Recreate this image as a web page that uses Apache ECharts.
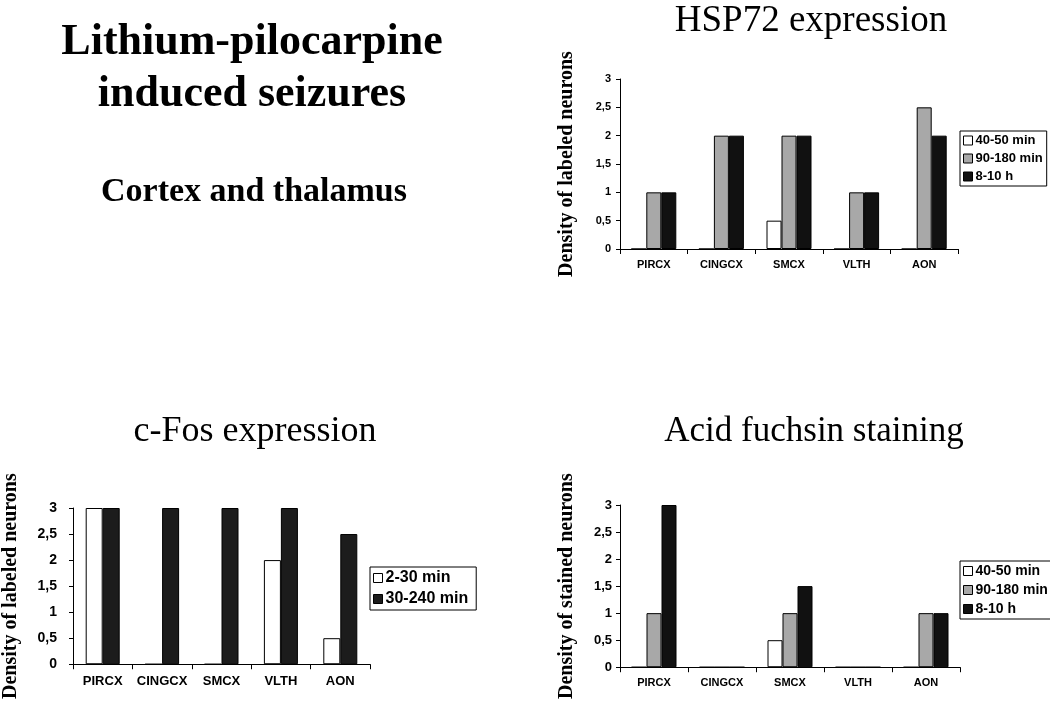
<!DOCTYPE html>
<html>
<head>
<meta charset="utf-8">
<script src="https://cdn.jsdelivr.net/npm/echarts@6/dist/echarts.min.js"></script>
<style>
html,body{margin:0;padding:0;background:#fff;}
#chart{width:1050px;height:701px;}
</style>
</head>
<body>
<div id="chart"></div>
<script>
// ---- data ----
var regions = ['PIRCX', 'CINGCX', 'SMCX', 'VLTH', 'AON'];
var yTicks = [0, 0.5, 1, 1.5, 2, 2.5, 3];

var hspNames = ['40-50 min', '90-180 min', '8-10 h'];
var hsp_40_50 = [0, 0, 0.5, 0, 0];
var hsp_90_180 = [1, 2, 2, 1, 2.5];
var hsp_8_10 = [1, 2, 2, 1, 2];

var fosNames = ['2-30 min', '30-240 min'];
var fos_2_30 = [3, 0, 0, 2, 0.5];
var fos_30_240 = [3, 3, 3, 3, 2.5];

var afNames = ['40-50 min', '90-180 min', '8-10 h'];
var af_40_50 = [0, 0, 0.5, 0, 0];
var af_90_180 = [1, 0, 1, 0, 1];
var af_8_10 = [3, 0, 1.5, 0, 1];

// ---- styles ----
var WHITE = {color: '#ffffff', borderColor: '#000', borderWidth: 1};
var GRAY = {color: '#a8a8a8', borderColor: '#000', borderWidth: 1};
var BLACK = {color: '#111111', borderColor: '#000', borderWidth: 1};
var DARK = {color: '#1c1c1c', borderColor: '#000', borderWidth: 1};
var SANS = '"Liberation Sans", Arial, sans-serif';
var SERIF = '"Liberation Serif", "Times New Roman", serif';

function fmt(v) { return String(v).replace('.', ','); }

function xAx(grid, fontSize, margin) {
  return {
    type: 'category', gridIndex: grid, data: regions,
    axisLine: {lineStyle: {color: '#000', width: 1}},
    axisTick: {show: true, length: 5, lineStyle: {color: '#000'}},
    axisLabel: {color: '#000', fontFamily: SANS, fontWeight: 'bold', fontSize: fontSize, margin: margin, interval: 0},
    splitLine: {show: false}
  };
}
function yAx(grid, name, fontSize, margin, gap) {
  return {
    type: 'value', gridIndex: grid, min: yTicks[0], max: yTicks[yTicks.length - 1], interval: 0.5,
    name: name, nameLocation: 'middle', nameRotate: 90, nameGap: gap,
    nameTextStyle: {color: '#000', fontFamily: SERIF, fontWeight: 'bold', fontSize: 20},
    axisLine: {show: true, lineStyle: {color: '#000', width: 1}},
    axisTick: {show: true, length: 4, lineStyle: {color: '#000'}},
    axisLabel: {color: '#000', fontFamily: SANS, fontWeight: 'bold', fontSize: fontSize, margin: margin, formatter: fmt},
    splitLine: {show: false}
  };
}
function bar(name, data, xi, style, w) {
  return {
    type: 'bar', name: name, data: data, xAxisIndex: xi, yAxisIndex: xi,
    barWidth: w, barGap: '0%', itemStyle: style, emphasis: {disabled: true}, animation: false
  };
}
function legend(names, styles, left, top, fontSize, gap, padRight) {
  return {
    orient: 'vertical', left: left, top: top, padding: [3, padRight, 3, 3],
    borderColor: '#000', borderWidth: 1, backgroundColor: '#fff',
    itemWidth: 9, itemHeight: 9, itemGap: gap, icon: 'rect', selectedMode: false,
    textStyle: {color: '#000', fontFamily: SANS, fontWeight: 'bold', fontSize: fontSize, padding: [0, 0, 0, -2]},
    data: names.map(function (n, i) { return {name: n, itemStyle: styles[i]}; })
  };
}
function txt(text, x, y, size, weight) {
  return {type: 'text', x: x, y: y, silent: true,
    style: {text: text, fill: '#000', font: weight + ' ' + size + 'px ' + SERIF, textAlign: 'center', textVerticalAlign: 'middle'}};
}

var chart = echarts.init(document.getElementById('chart'), null, {renderer: 'canvas'});
chart.setOption({
  backgroundColor: '#fff',
  animation: false,
  grid: [
    {left: 620, top: 79, width: 338, height: 170},
    {left: 70, top: 508, width: 300, height: 165},
    {left: 620, top: 505, width: 340, height: 172}
  ],
  xAxis: [xAx(0, 11, 10), xAx(1, 13, 11), xAx(2, 11, 10)],
  yAxis: [
    yAx(0, 'Density of labeled neurons', 11, 9, 43),
    yAx(1, 'Density of labeled neurons', 14, 16, 52),
    yAx(2, 'Density of stained neurons', 13, 8, 43)
  ],
  legend: [
    legend(hspNames, [WHITE, GRAY, BLACK], 960, 131, 13, 5, 4),
    legend(fosNames, [WHITE, DARK], 370, 567, 16, 5, 8),
    legend(afNames, [WHITE, GRAY, BLACK], 960, 561, 14, 5, 4)
  ],
  series: [
    bar(hspNames[0], hsp_40_50, 0, WHITE, 15),
    bar(hspNames[1], hsp_90_180, 0, GRAY, 15),
    bar(hspNames[2], hsp_8_10, 0, BLACK, 15),
    bar(fosNames[0], fos_2_30, 1, WHITE, 17),
    bar(fosNames[1], fos_30_240, 1, DARK, 17),
    bar(afNames[0], af_40_50, 2, WHITE, 15),
    bar(afNames[1], af_90_180, 2, GRAY, 15),
    bar(afNames[2], af_8_10, 2, BLACK, 15)
  ],
  graphic: [
    txt('Lithium-pilocarpine', 252, 43, 44, 'bold'),
    txt('induced seizures', 252, 95, 44, 'bold'),
    txt('Cortex and thalamus', 254, 192, 34, 'bold'),
    txt('HSP72 expression', 811, 21, 37, 'normal'),
    txt('c-Fos expression', 255, 432, 36, 'normal'),
    txt('Acid fuchsin staining', 814, 432, 35, 'normal')
  ]
});
</script>
</body>
</html>
